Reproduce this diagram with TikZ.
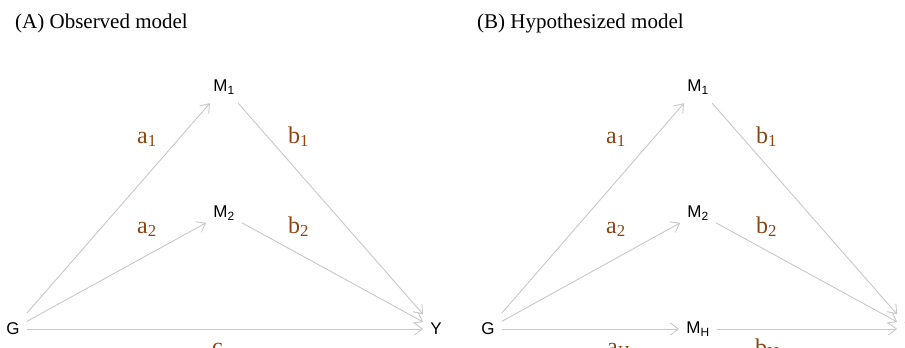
\documentclass[tikz,border=0pt]{standalone}
\usepackage{fontspec}
\setmainfont{Liberation Serif}
\newfontfamily\varfont{Liberation Sans}
\usetikzlibrary{arrows.meta}
\definecolor{coefbrown}{RGB}{139,69,19}
\definecolor{linkgray}{RGB}{200,200,200}

\begin{document}
\begin{tikzpicture}[x=1pt,y=-1pt]
\tikzset{
  var/.style={inner xsep=7pt,inner ysep=0pt,minimum height=32pt,
    font=\varfont\fontsize{17}{20}\selectfont},
  link/.style={draw=linkgray,line width=0.9pt,
    -{Straight Barb[length=8pt,width=12pt]}},
  coef/.style={anchor=base west,inner sep=0pt,text=coefbrown,
    font=\fontsize{24}{28}\selectfont},
  panel/.style={anchor=base west,inner sep=0pt,
    font=\fontsize{21}{25}\selectfont}
}
\clip (0,0) rectangle (905,348);

% (A) observed
\node[panel] (titleA) at (15,28) {(A) Observed model};
\node[var] (GA)  at (13,329)  {G};
\node[var] (M1A) at (224,87)  {M\textsubscript{1}};
\node[var] (M2A) at (224,213) {M\textsubscript{2}};
\node[var] (YA)  at (436,329) {Y};
\draw[link] (GA) -- (M1A);
\draw[link] (GA) -- (M2A);
\draw[link] (GA) -- (YA);
\draw[link] (M1A) -- (YA);
\draw[link] (M2A) -- (YA);
\node[coef] (a1A) at (137,143) {a\textsubscript{1}};
\node[coef] (b1A) at (288,143) {b\textsubscript{1}};
\node[coef] (a2A) at (137,233) {a\textsubscript{2}};
\node[coef] (b2A) at (288,233) {b\textsubscript{2}};
\node[coef] (cA)  at (212,354) {c};

% (B) hypothesized
\node[panel] (titleB) at (477,28) {(B) Hypothesized model};
\node[var] (GB)  at (488,329) {G};
\node[var] (M1B) at (698,87)  {M\textsubscript{1}};
\node[var] (M2B) at (698,213) {M\textsubscript{2}};
\node[var] (MHB) at (698,329) {M\textsubscript{H}};
\node[var] (YB)  at (910,329) {Y};
\draw[link] (GB) -- (M1B);
\draw[link] (GB) -- (M2B);
\draw[link] (GB) -- (MHB);
\draw[link] (M1B) -- (YB);
\draw[link] (M2B) -- (YB);
\draw[link] (MHB) -- (YB);
\node[coef] (a1B) at (606,143) {a\textsubscript{1}};
\node[coef] (b1B) at (756,143) {b\textsubscript{1}};
\node[coef] (a2B) at (606,233) {a\textsubscript{2}};
\node[coef] (b2B) at (756,233) {b\textsubscript{2}};
\node[coef] (aHB) at (607,354) {a\textsubscript{H}};
\node[coef] (bHB) at (755,355) {b\textsubscript{H}};
\end{tikzpicture}
\end{document}
